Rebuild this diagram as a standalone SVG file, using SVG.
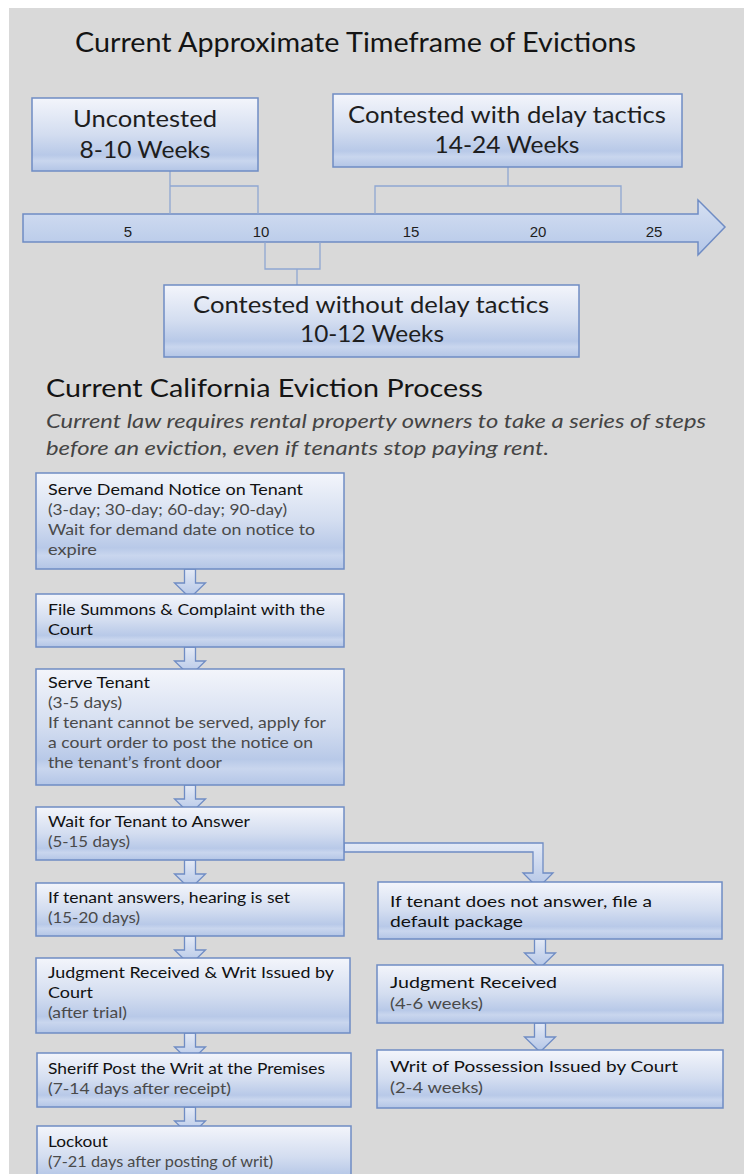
<svg xmlns="http://www.w3.org/2000/svg" width="744" height="1174" viewBox="0 0 744 1174">
<defs>
<linearGradient id="boxg" x1="0" y1="0" x2="0" y2="1">
<stop offset="0" stop-color="#f3f5fb"/>
<stop offset="0.5" stop-color="#d3ddf0"/>
<stop offset="0.78" stop-color="#b8c9e8"/>
<stop offset="0.86" stop-color="#c9d6ee"/>
<stop offset="1" stop-color="#b3c5e6"/>
</linearGradient>
<linearGradient id="barg" x1="0" y1="0" x2="0" y2="1">
<stop offset="0" stop-color="#d6e0f2"/>
<stop offset="1" stop-color="#b4c7e8"/>
</linearGradient>
<linearGradient id="arrg" x1="0" y1="0" x2="0" y2="1">
<stop offset="0" stop-color="#e4eaf6"/>
<stop offset="1" stop-color="#b3c5e6"/>
</linearGradient>
<path id="darr" d="M-5.5,0 V14 H-15.5 L0,29 L15.5,14 H5.5 V0 Z"/>
<style>
.box{fill:url(#boxg);stroke:#6f8cc4;stroke-width:1.5}
.bar{fill:url(#barg);stroke:#6f8cc4;stroke-width:1.5}
.arr{fill:url(#arrg);stroke:#6f8cc4;stroke-width:1.3}
.brk{fill:none;stroke:#8fa7d2;stroke-width:1.3}
.t{font-family:Lato,"Noto Sans",sans-serif;fill:#141414}
.sub{font-family:Lato,"Noto Sans",sans-serif;font-size:19px;font-style:italic;font-weight:400;fill:#444}
.tl{font-family:Lato,"Noto Sans",sans-serif;font-size:23px;fill:#1e1e1e;text-anchor:middle}
.tick{font-family:"Liberation Sans",Arial,sans-serif;font-size:15px;fill:#1e1e1e;text-anchor:middle}
.b1{font-family:Lato,"Noto Sans",sans-serif;font-size:16px;fill:#111}
.b2{font-family:Lato,"Noto Sans",sans-serif;font-size:16px;fill:#4a4a4a}
</style>
</defs>
<rect x="0" y="0" width="744" height="1174" fill="#ffffff"/>
<rect x="9" y="8" width="735" height="1166" fill="#d9d9d9"/>

<text class="t" x="75" y="52" font-size="26" textLength="561" lengthAdjust="spacingAndGlyphs">Current Approximate Timeframe of Evictions</text>

<g id="timeline">
<path class="bar" d="M23,214 H698 V200 L725,227 L698,255 V242 H23 Z"/>
<text class="tick" x="128" y="237">5</text>
<text class="tick" x="261" y="237">10</text>
<text class="tick" x="411" y="237">15</text>
<text class="tick" x="538" y="237">20</text>
<text class="tick" x="654" y="237">25</text>
</g>

<g id="connectors">
<path class="brk" d="M170,171 V214 M170,186 H258 V214"/>
<path class="brk" d="M508,167 V186 M375,214 V186 H621 V214"/>
<path class="brk" d="M265,242 V269 H320 V242 M297,269 V285"/>
<use href="#darr" class="arr" x="190" y="569"/>
<use href="#darr" class="arr" x="190" y="647"/>
<use href="#darr" class="arr" x="190" y="785"/>
<use href="#darr" class="arr" x="190" y="860"/>
<use href="#darr" class="arr" x="190" y="936"/>
<use href="#darr" class="arr" x="190" y="1033"/>
<use href="#darr" class="arr" x="190" y="1107"/>
<path class="arr" d="M344,843 H543 V873 H553 L538,888 L523,873 H533 V852 H344 Z"/>
<use href="#darr" class="arr" x="540" y="939"/>
<use href="#darr" class="arr" x="540" y="1023"/>
</g>

<g id="uncontested">
<rect class="box" x="32" y="98" width="226" height="73"/>
<text class="tl" x="145" y="127" textLength="144" lengthAdjust="spacingAndGlyphs">Uncontested</text>
<text class="tl" x="145" y="158" textLength="131" lengthAdjust="spacingAndGlyphs">8-10 Weeks</text>
</g>
<g id="contested-delay">
<rect class="box" x="333" y="94" width="349" height="73"/>
<text class="tl" x="507" y="123" textLength="318" lengthAdjust="spacingAndGlyphs">Contested with delay tactics</text>
<text class="tl" x="507" y="153" textLength="145" lengthAdjust="spacingAndGlyphs">14-24 Weeks</text>
</g>
<g id="contested-nodelay">
<rect class="box" x="164" y="285" width="415" height="72"/>
<text class="tl" x="371" y="313" textLength="356" lengthAdjust="spacingAndGlyphs">Contested without delay tactics</text>
<text class="tl" x="372" y="342" textLength="144" lengthAdjust="spacingAndGlyphs">10-12 Weeks</text>
</g>

<text class="t" x="46" y="397" font-size="25" textLength="437" lengthAdjust="spacingAndGlyphs">Current California Eviction Process</text>
<text class="sub" x="46" y="428" textLength="660" lengthAdjust="spacingAndGlyphs">Current law requires rental property owners to take a series of steps</text>
<text class="sub" x="46" y="455" textLength="503" lengthAdjust="spacingAndGlyphs">before an eviction, even if tenants stop paying rent.</text>

<g id="serve-notice">
<rect class="box" x="36" y="473" width="308" height="96"/>
<text class="b1" x="48" y="495" textLength="255" lengthAdjust="spacingAndGlyphs">Serve Demand Notice on Tenant</text>
<text class="b2" x="48" y="515" textLength="239" lengthAdjust="spacingAndGlyphs">(3-day; 30-day; 60-day; 90-day)</text>
<text class="b2" x="48" y="535" textLength="267" lengthAdjust="spacingAndGlyphs">Wait for demand date on notice to</text>
<text class="b2" x="48" y="555" textLength="49" lengthAdjust="spacingAndGlyphs">expire</text>
</g>
<g id="file-summons">
<rect class="box" x="36" y="594" width="308" height="53"/>
<text class="b1" x="48" y="615" textLength="277" lengthAdjust="spacingAndGlyphs">File Summons &amp; Complaint with the</text>
<text class="b1" x="48" y="635" textLength="45" lengthAdjust="spacingAndGlyphs">Court</text>
</g>
<g id="serve-tenant">
<rect class="box" x="36" y="669" width="308" height="116"/>
<text class="b1" x="48" y="688" textLength="102" lengthAdjust="spacingAndGlyphs">Serve Tenant</text>
<text class="b2" x="48" y="708" textLength="74" lengthAdjust="spacingAndGlyphs">(3-5 days)</text>
<text class="b2" x="48" y="728" textLength="278" lengthAdjust="spacingAndGlyphs">If tenant cannot be served, apply for</text>
<text class="b2" x="48" y="748" textLength="265" lengthAdjust="spacingAndGlyphs">a court order to post the notice on</text>
<text class="b2" x="48" y="768" textLength="174" lengthAdjust="spacingAndGlyphs">the tenant’s front door</text>
</g>
<g id="wait-answer">
<rect class="box" x="36" y="807" width="308" height="53"/>
<text class="b1" x="48" y="827" textLength="202" lengthAdjust="spacingAndGlyphs">Wait for Tenant to Answer</text>
<text class="b2" x="48" y="847" textLength="82" lengthAdjust="spacingAndGlyphs">(5-15 days)</text>
</g>
<g id="tenant-answers">
<rect class="box" x="36" y="883" width="308" height="53"/>
<text class="b1" x="48" y="903" textLength="242" lengthAdjust="spacingAndGlyphs">If tenant answers, hearing is set</text>
<text class="b2" x="48" y="923" textLength="92" lengthAdjust="spacingAndGlyphs">(15-20 days)</text>
</g>
<g id="judgment-writ">
<rect class="box" x="36" y="958" width="314" height="75"/>
<text class="b1" x="48" y="978" textLength="286" lengthAdjust="spacingAndGlyphs">Judgment Received &amp; Writ Issued by</text>
<text class="b1" x="48" y="998" textLength="45" lengthAdjust="spacingAndGlyphs">Court</text>
<text class="b2" x="48" y="1018" textLength="79" lengthAdjust="spacingAndGlyphs">(after trial)</text>
</g>
<g id="sheriff">
<rect class="box" x="37" y="1053" width="314" height="54"/>
<text class="b1" x="48" y="1074" textLength="277" lengthAdjust="spacingAndGlyphs">Sheriff Post the Writ at the Premises</text>
<text class="b2" x="48" y="1094" textLength="183" lengthAdjust="spacingAndGlyphs">(7-14 days after receipt)</text>
</g>
<g id="lockout">
<rect class="box" x="37" y="1126" width="314" height="62"/>
<text class="b1" x="48" y="1147" textLength="60" lengthAdjust="spacingAndGlyphs">Lockout</text>
<text class="b2" x="48" y="1167" textLength="225" lengthAdjust="spacingAndGlyphs">(7-21 days after posting of writ)</text>
</g>
<g id="no-answer">
<rect class="box" x="378" y="882" width="344" height="57"/>
<text class="b1" x="390" y="907" textLength="262" lengthAdjust="spacingAndGlyphs">If tenant does not answer, file a</text>
<text class="b1" x="390" y="927" textLength="133" lengthAdjust="spacingAndGlyphs">default package</text>
</g>
<g id="judgment-received">
<rect class="box" x="377" y="965" width="346" height="58"/>
<text class="b1" x="390" y="988" textLength="167" lengthAdjust="spacingAndGlyphs">Judgment Received</text>
<text class="b2" x="390" y="1009" textLength="93" lengthAdjust="spacingAndGlyphs">(4-6 weeks)</text>
</g>
<g id="writ-possession">
<rect class="box" x="377" y="1050" width="346" height="58"/>
<text class="b1" x="390" y="1072" textLength="288" lengthAdjust="spacingAndGlyphs">Writ of Possession Issued by Court</text>
<text class="b2" x="390" y="1093" textLength="93" lengthAdjust="spacingAndGlyphs">(2-4 weeks)</text>
</g>
</svg>
